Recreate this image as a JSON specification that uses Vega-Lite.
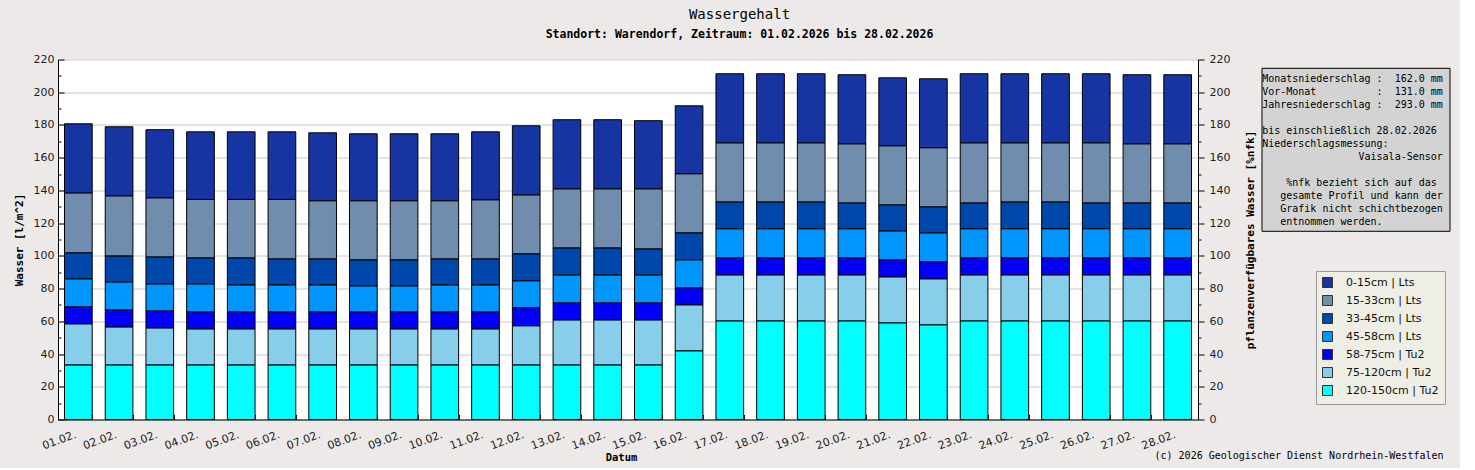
{
  "$schema": "https://vega.github.io/schema/vega-lite/v6.json",
  "background": "#ECE9E8",
  "padding": {"left": 13, "top": 7.5, "right": 10, "bottom": 4},
  "config": {"view": {"stroke": null}, "font": "DejaVu Sans"},
  "title": {
    "text": "Wassergehalt",
    "subtitle": "Standort: Warendorf, Zeitraum: 01.02.2026 bis 28.02.2026",
    "anchor": "middle",
    "font": "DejaVu Sans Mono",
    "fontSize": 14,
    "fontWeight": "normal",
    "color": "black",
    "subtitleFont": "DejaVu Sans Mono",
    "subtitleFontSize": 11.5,
    "subtitleFontWeight": "bold",
    "subtitleColor": "black",
    "subtitlePadding": 7.5,
    "offset": 13,
    "dx": 8
  },
  "datasets": {
    "wasser": [
      {"datum": "01.02.", "schicht": "120-150cm | Tu2", "tiefe": 120, "wert": 33.4},
      {"datum": "01.02.", "schicht": "75-120cm | Tu2", "tiefe": 75, "wert": 25.1},
      {"datum": "01.02.", "schicht": "58-75cm | Tu2", "tiefe": 58, "wert": 10.4},
      {"datum": "01.02.", "schicht": "45-58cm | Lts", "tiefe": 45, "wert": 17.1},
      {"datum": "01.02.", "schicht": "33-45cm | Lts", "tiefe": 33, "wert": 15.9},
      {"datum": "01.02.", "schicht": "15-33cm | Lts", "tiefe": 15, "wert": 36.6},
      {"datum": "01.02.", "schicht": "0-15cm | Lts", "tiefe": 0, "wert": 42.2},
      {"datum": "02.02.", "schicht": "120-150cm | Tu2", "tiefe": 120, "wert": 33.4},
      {"datum": "02.02.", "schicht": "75-120cm | Tu2", "tiefe": 75, "wert": 23.2},
      {"datum": "02.02.", "schicht": "58-75cm | Tu2", "tiefe": 58, "wert": 10.4},
      {"datum": "02.02.", "schicht": "45-58cm | Lts", "tiefe": 45, "wert": 17.1},
      {"datum": "02.02.", "schicht": "33-45cm | Lts", "tiefe": 33, "wert": 15.9},
      {"datum": "02.02.", "schicht": "15-33cm | Lts", "tiefe": 15, "wert": 36.7},
      {"datum": "02.02.", "schicht": "0-15cm | Lts", "tiefe": 0, "wert": 42.2},
      {"datum": "03.02.", "schicht": "120-150cm | Tu2", "tiefe": 120, "wert": 33.4},
      {"datum": "03.02.", "schicht": "75-120cm | Tu2", "tiefe": 75, "wert": 22.6},
      {"datum": "03.02.", "schicht": "58-75cm | Tu2", "tiefe": 58, "wert": 10.4},
      {"datum": "03.02.", "schicht": "45-58cm | Lts", "tiefe": 45, "wert": 16.5},
      {"datum": "03.02.", "schicht": "33-45cm | Lts", "tiefe": 33, "wert": 16.5},
      {"datum": "03.02.", "schicht": "15-33cm | Lts", "tiefe": 15, "wert": 36.1},
      {"datum": "03.02.", "schicht": "0-15cm | Lts", "tiefe": 0, "wert": 41.6},
      {"datum": "04.02.", "schicht": "120-150cm | Tu2", "tiefe": 120, "wert": 33.4},
      {"datum": "04.02.", "schicht": "75-120cm | Tu2", "tiefe": 75, "wert": 22.0},
      {"datum": "04.02.", "schicht": "58-75cm | Tu2", "tiefe": 58, "wert": 10.4},
      {"datum": "04.02.", "schicht": "45-58cm | Lts", "tiefe": 45, "wert": 17.1},
      {"datum": "04.02.", "schicht": "33-45cm | Lts", "tiefe": 33, "wert": 15.9},
      {"datum": "04.02.", "schicht": "15-33cm | Lts", "tiefe": 15, "wert": 35.7},
      {"datum": "04.02.", "schicht": "0-15cm | Lts", "tiefe": 0, "wert": 41.3},
      {"datum": "05.02.", "schicht": "120-150cm | Tu2", "tiefe": 120, "wert": 33.4},
      {"datum": "05.02.", "schicht": "75-120cm | Tu2", "tiefe": 75, "wert": 22.0},
      {"datum": "05.02.", "schicht": "58-75cm | Tu2", "tiefe": 58, "wert": 10.4},
      {"datum": "05.02.", "schicht": "45-58cm | Lts", "tiefe": 45, "wert": 16.5},
      {"datum": "05.02.", "schicht": "33-45cm | Lts", "tiefe": 33, "wert": 16.5},
      {"datum": "05.02.", "schicht": "15-33cm | Lts", "tiefe": 15, "wert": 35.7},
      {"datum": "05.02.", "schicht": "0-15cm | Lts", "tiefe": 0, "wert": 41.3},
      {"datum": "06.02.", "schicht": "120-150cm | Tu2", "tiefe": 120, "wert": 33.4},
      {"datum": "06.02.", "schicht": "75-120cm | Tu2", "tiefe": 75, "wert": 22.0},
      {"datum": "06.02.", "schicht": "58-75cm | Tu2", "tiefe": 58, "wert": 10.4},
      {"datum": "06.02.", "schicht": "45-58cm | Lts", "tiefe": 45, "wert": 16.5},
      {"datum": "06.02.", "schicht": "33-45cm | Lts", "tiefe": 33, "wert": 15.9},
      {"datum": "06.02.", "schicht": "15-33cm | Lts", "tiefe": 15, "wert": 36.3},
      {"datum": "06.02.", "schicht": "0-15cm | Lts", "tiefe": 0, "wert": 41.3},
      {"datum": "07.02.", "schicht": "120-150cm | Tu2", "tiefe": 120, "wert": 33.4},
      {"datum": "07.02.", "schicht": "75-120cm | Tu2", "tiefe": 75, "wert": 22.0},
      {"datum": "07.02.", "schicht": "58-75cm | Tu2", "tiefe": 58, "wert": 10.4},
      {"datum": "07.02.", "schicht": "45-58cm | Lts", "tiefe": 45, "wert": 16.5},
      {"datum": "07.02.", "schicht": "33-45cm | Lts", "tiefe": 33, "wert": 15.9},
      {"datum": "07.02.", "schicht": "15-33cm | Lts", "tiefe": 15, "wert": 35.5},
      {"datum": "07.02.", "schicht": "0-15cm | Lts", "tiefe": 0, "wert": 41.5},
      {"datum": "08.02.", "schicht": "120-150cm | Tu2", "tiefe": 120, "wert": 33.4},
      {"datum": "08.02.", "schicht": "75-120cm | Tu2", "tiefe": 75, "wert": 22.0},
      {"datum": "08.02.", "schicht": "58-75cm | Tu2", "tiefe": 58, "wert": 10.4},
      {"datum": "08.02.", "schicht": "45-58cm | Lts", "tiefe": 45, "wert": 15.9},
      {"datum": "08.02.", "schicht": "33-45cm | Lts", "tiefe": 33, "wert": 15.9},
      {"datum": "08.02.", "schicht": "15-33cm | Lts", "tiefe": 15, "wert": 36.1},
      {"datum": "08.02.", "schicht": "0-15cm | Lts", "tiefe": 0, "wert": 40.9},
      {"datum": "09.02.", "schicht": "120-150cm | Tu2", "tiefe": 120, "wert": 33.4},
      {"datum": "09.02.", "schicht": "75-120cm | Tu2", "tiefe": 75, "wert": 22.0},
      {"datum": "09.02.", "schicht": "58-75cm | Tu2", "tiefe": 58, "wert": 10.4},
      {"datum": "09.02.", "schicht": "45-58cm | Lts", "tiefe": 45, "wert": 15.9},
      {"datum": "09.02.", "schicht": "33-45cm | Lts", "tiefe": 33, "wert": 15.9},
      {"datum": "09.02.", "schicht": "15-33cm | Lts", "tiefe": 15, "wert": 36.1},
      {"datum": "09.02.", "schicht": "0-15cm | Lts", "tiefe": 0, "wert": 40.9},
      {"datum": "10.02.", "schicht": "120-150cm | Tu2", "tiefe": 120, "wert": 33.4},
      {"datum": "10.02.", "schicht": "75-120cm | Tu2", "tiefe": 75, "wert": 22.0},
      {"datum": "10.02.", "schicht": "58-75cm | Tu2", "tiefe": 58, "wert": 10.4},
      {"datum": "10.02.", "schicht": "45-58cm | Lts", "tiefe": 45, "wert": 16.5},
      {"datum": "10.02.", "schicht": "33-45cm | Lts", "tiefe": 33, "wert": 15.9},
      {"datum": "10.02.", "schicht": "15-33cm | Lts", "tiefe": 15, "wert": 35.5},
      {"datum": "10.02.", "schicht": "0-15cm | Lts", "tiefe": 0, "wert": 40.9},
      {"datum": "11.02.", "schicht": "120-150cm | Tu2", "tiefe": 120, "wert": 33.4},
      {"datum": "11.02.", "schicht": "75-120cm | Tu2", "tiefe": 75, "wert": 22.0},
      {"datum": "11.02.", "schicht": "58-75cm | Tu2", "tiefe": 58, "wert": 10.4},
      {"datum": "11.02.", "schicht": "45-58cm | Lts", "tiefe": 45, "wert": 16.5},
      {"datum": "11.02.", "schicht": "33-45cm | Lts", "tiefe": 33, "wert": 15.9},
      {"datum": "11.02.", "schicht": "15-33cm | Lts", "tiefe": 15, "wert": 36.1},
      {"datum": "11.02.", "schicht": "0-15cm | Lts", "tiefe": 0, "wert": 41.5},
      {"datum": "12.02.", "schicht": "120-150cm | Tu2", "tiefe": 120, "wert": 33.4},
      {"datum": "12.02.", "schicht": "75-120cm | Tu2", "tiefe": 75, "wert": 23.9},
      {"datum": "12.02.", "schicht": "58-75cm | Tu2", "tiefe": 58, "wert": 11.0},
      {"datum": "12.02.", "schicht": "45-58cm | Lts", "tiefe": 45, "wert": 16.5},
      {"datum": "12.02.", "schicht": "33-45cm | Lts", "tiefe": 33, "wert": 16.5},
      {"datum": "12.02.", "schicht": "15-33cm | Lts", "tiefe": 15, "wert": 36.0},
      {"datum": "12.02.", "schicht": "0-15cm | Lts", "tiefe": 0, "wert": 42.2},
      {"datum": "13.02.", "schicht": "120-150cm | Tu2", "tiefe": 120, "wert": 33.4},
      {"datum": "13.02.", "schicht": "75-120cm | Tu2", "tiefe": 75, "wert": 27.5},
      {"datum": "13.02.", "schicht": "58-75cm | Tu2", "tiefe": 58, "wert": 10.4},
      {"datum": "13.02.", "schicht": "45-58cm | Lts", "tiefe": 45, "wert": 17.1},
      {"datum": "13.02.", "schicht": "33-45cm | Lts", "tiefe": 33, "wert": 16.5},
      {"datum": "13.02.", "schicht": "15-33cm | Lts", "tiefe": 15, "wert": 36.1},
      {"datum": "13.02.", "schicht": "0-15cm | Lts", "tiefe": 0, "wert": 42.2},
      {"datum": "14.02.", "schicht": "120-150cm | Tu2", "tiefe": 120, "wert": 33.4},
      {"datum": "14.02.", "schicht": "75-120cm | Tu2", "tiefe": 75, "wert": 27.5},
      {"datum": "14.02.", "schicht": "58-75cm | Tu2", "tiefe": 58, "wert": 10.4},
      {"datum": "14.02.", "schicht": "45-58cm | Lts", "tiefe": 45, "wert": 17.1},
      {"datum": "14.02.", "schicht": "33-45cm | Lts", "tiefe": 33, "wert": 16.5},
      {"datum": "14.02.", "schicht": "15-33cm | Lts", "tiefe": 15, "wert": 36.1},
      {"datum": "14.02.", "schicht": "0-15cm | Lts", "tiefe": 0, "wert": 42.2},
      {"datum": "15.02.", "schicht": "120-150cm | Tu2", "tiefe": 120, "wert": 33.4},
      {"datum": "15.02.", "schicht": "75-120cm | Tu2", "tiefe": 75, "wert": 27.5},
      {"datum": "15.02.", "schicht": "58-75cm | Tu2", "tiefe": 58, "wert": 10.4},
      {"datum": "15.02.", "schicht": "45-58cm | Lts", "tiefe": 45, "wert": 17.1},
      {"datum": "15.02.", "schicht": "33-45cm | Lts", "tiefe": 33, "wert": 15.9},
      {"datum": "15.02.", "schicht": "15-33cm | Lts", "tiefe": 15, "wert": 36.7},
      {"datum": "15.02.", "schicht": "0-15cm | Lts", "tiefe": 0, "wert": 41.6},
      {"datum": "16.02.", "schicht": "120-150cm | Tu2", "tiefe": 120, "wert": 42.0},
      {"datum": "16.02.", "schicht": "75-120cm | Tu2", "tiefe": 75, "wert": 28.1},
      {"datum": "16.02.", "schicht": "58-75cm | Tu2", "tiefe": 58, "wert": 10.4},
      {"datum": "16.02.", "schicht": "45-58cm | Lts", "tiefe": 45, "wert": 17.1},
      {"datum": "16.02.", "schicht": "33-45cm | Lts", "tiefe": 33, "wert": 16.5},
      {"datum": "16.02.", "schicht": "15-33cm | Lts", "tiefe": 15, "wert": 36.1},
      {"datum": "16.02.", "schicht": "0-15cm | Lts", "tiefe": 0, "wert": 41.5},
      {"datum": "17.02.", "schicht": "120-150cm | Tu2", "tiefe": 120, "wert": 60.3},
      {"datum": "17.02.", "schicht": "75-120cm | Tu2", "tiefe": 75, "wert": 28.1},
      {"datum": "17.02.", "schicht": "58-75cm | Tu2", "tiefe": 58, "wert": 10.4},
      {"datum": "17.02.", "schicht": "45-58cm | Lts", "tiefe": 45, "wert": 17.8},
      {"datum": "17.02.", "schicht": "33-45cm | Lts", "tiefe": 33, "wert": 16.4},
      {"datum": "17.02.", "schicht": "15-33cm | Lts", "tiefe": 15, "wert": 36.1},
      {"datum": "17.02.", "schicht": "0-15cm | Lts", "tiefe": 0, "wert": 42.2},
      {"datum": "18.02.", "schicht": "120-150cm | Tu2", "tiefe": 120, "wert": 60.3},
      {"datum": "18.02.", "schicht": "75-120cm | Tu2", "tiefe": 75, "wert": 28.1},
      {"datum": "18.02.", "schicht": "58-75cm | Tu2", "tiefe": 58, "wert": 10.4},
      {"datum": "18.02.", "schicht": "45-58cm | Lts", "tiefe": 45, "wert": 17.8},
      {"datum": "18.02.", "schicht": "33-45cm | Lts", "tiefe": 33, "wert": 16.4},
      {"datum": "18.02.", "schicht": "15-33cm | Lts", "tiefe": 15, "wert": 36.1},
      {"datum": "18.02.", "schicht": "0-15cm | Lts", "tiefe": 0, "wert": 42.2},
      {"datum": "19.02.", "schicht": "120-150cm | Tu2", "tiefe": 120, "wert": 60.3},
      {"datum": "19.02.", "schicht": "75-120cm | Tu2", "tiefe": 75, "wert": 28.1},
      {"datum": "19.02.", "schicht": "58-75cm | Tu2", "tiefe": 58, "wert": 10.4},
      {"datum": "19.02.", "schicht": "45-58cm | Lts", "tiefe": 45, "wert": 17.8},
      {"datum": "19.02.", "schicht": "33-45cm | Lts", "tiefe": 33, "wert": 16.4},
      {"datum": "19.02.", "schicht": "15-33cm | Lts", "tiefe": 15, "wert": 36.1},
      {"datum": "19.02.", "schicht": "0-15cm | Lts", "tiefe": 0, "wert": 42.2},
      {"datum": "20.02.", "schicht": "120-150cm | Tu2", "tiefe": 120, "wert": 60.3},
      {"datum": "20.02.", "schicht": "75-120cm | Tu2", "tiefe": 75, "wert": 28.1},
      {"datum": "20.02.", "schicht": "58-75cm | Tu2", "tiefe": 58, "wert": 10.4},
      {"datum": "20.02.", "schicht": "45-58cm | Lts", "tiefe": 45, "wert": 17.8},
      {"datum": "20.02.", "schicht": "33-45cm | Lts", "tiefe": 33, "wert": 15.8},
      {"datum": "20.02.", "schicht": "15-33cm | Lts", "tiefe": 15, "wert": 36.1},
      {"datum": "20.02.", "schicht": "0-15cm | Lts", "tiefe": 0, "wert": 42.2},
      {"datum": "21.02.", "schicht": "120-150cm | Tu2", "tiefe": 120, "wert": 59.1},
      {"datum": "21.02.", "schicht": "75-120cm | Tu2", "tiefe": 75, "wert": 28.1},
      {"datum": "21.02.", "schicht": "58-75cm | Tu2", "tiefe": 58, "wert": 10.4},
      {"datum": "21.02.", "schicht": "45-58cm | Lts", "tiefe": 45, "wert": 17.7},
      {"datum": "21.02.", "schicht": "33-45cm | Lts", "tiefe": 33, "wert": 15.9},
      {"datum": "21.02.", "schicht": "15-33cm | Lts", "tiefe": 15, "wert": 36.1},
      {"datum": "21.02.", "schicht": "0-15cm | Lts", "tiefe": 0, "wert": 41.5},
      {"datum": "22.02.", "schicht": "120-150cm | Tu2", "tiefe": 120, "wert": 57.9},
      {"datum": "22.02.", "schicht": "75-120cm | Tu2", "tiefe": 75, "wert": 28.1},
      {"datum": "22.02.", "schicht": "58-75cm | Tu2", "tiefe": 58, "wert": 10.4},
      {"datum": "22.02.", "schicht": "45-58cm | Lts", "tiefe": 45, "wert": 17.7},
      {"datum": "22.02.", "schicht": "33-45cm | Lts", "tiefe": 33, "wert": 15.9},
      {"datum": "22.02.", "schicht": "15-33cm | Lts", "tiefe": 15, "wert": 36.1},
      {"datum": "22.02.", "schicht": "0-15cm | Lts", "tiefe": 0, "wert": 42.1},
      {"datum": "23.02.", "schicht": "120-150cm | Tu2", "tiefe": 120, "wert": 60.3},
      {"datum": "23.02.", "schicht": "75-120cm | Tu2", "tiefe": 75, "wert": 28.1},
      {"datum": "23.02.", "schicht": "58-75cm | Tu2", "tiefe": 58, "wert": 10.4},
      {"datum": "23.02.", "schicht": "45-58cm | Lts", "tiefe": 45, "wert": 17.8},
      {"datum": "23.02.", "schicht": "33-45cm | Lts", "tiefe": 33, "wert": 15.8},
      {"datum": "23.02.", "schicht": "15-33cm | Lts", "tiefe": 15, "wert": 36.7},
      {"datum": "23.02.", "schicht": "0-15cm | Lts", "tiefe": 0, "wert": 42.2},
      {"datum": "24.02.", "schicht": "120-150cm | Tu2", "tiefe": 120, "wert": 60.3},
      {"datum": "24.02.", "schicht": "75-120cm | Tu2", "tiefe": 75, "wert": 28.1},
      {"datum": "24.02.", "schicht": "58-75cm | Tu2", "tiefe": 58, "wert": 10.4},
      {"datum": "24.02.", "schicht": "45-58cm | Lts", "tiefe": 45, "wert": 17.8},
      {"datum": "24.02.", "schicht": "33-45cm | Lts", "tiefe": 33, "wert": 16.4},
      {"datum": "24.02.", "schicht": "15-33cm | Lts", "tiefe": 15, "wert": 36.1},
      {"datum": "24.02.", "schicht": "0-15cm | Lts", "tiefe": 0, "wert": 42.2},
      {"datum": "25.02.", "schicht": "120-150cm | Tu2", "tiefe": 120, "wert": 60.3},
      {"datum": "25.02.", "schicht": "75-120cm | Tu2", "tiefe": 75, "wert": 28.1},
      {"datum": "25.02.", "schicht": "58-75cm | Tu2", "tiefe": 58, "wert": 10.4},
      {"datum": "25.02.", "schicht": "45-58cm | Lts", "tiefe": 45, "wert": 17.8},
      {"datum": "25.02.", "schicht": "33-45cm | Lts", "tiefe": 33, "wert": 16.4},
      {"datum": "25.02.", "schicht": "15-33cm | Lts", "tiefe": 15, "wert": 36.1},
      {"datum": "25.02.", "schicht": "0-15cm | Lts", "tiefe": 0, "wert": 42.2},
      {"datum": "26.02.", "schicht": "120-150cm | Tu2", "tiefe": 120, "wert": 60.3},
      {"datum": "26.02.", "schicht": "75-120cm | Tu2", "tiefe": 75, "wert": 28.1},
      {"datum": "26.02.", "schicht": "58-75cm | Tu2", "tiefe": 58, "wert": 10.4},
      {"datum": "26.02.", "schicht": "45-58cm | Lts", "tiefe": 45, "wert": 17.8},
      {"datum": "26.02.", "schicht": "33-45cm | Lts", "tiefe": 33, "wert": 15.8},
      {"datum": "26.02.", "schicht": "15-33cm | Lts", "tiefe": 15, "wert": 36.7},
      {"datum": "26.02.", "schicht": "0-15cm | Lts", "tiefe": 0, "wert": 42.2},
      {"datum": "27.02.", "schicht": "120-150cm | Tu2", "tiefe": 120, "wert": 60.3},
      {"datum": "27.02.", "schicht": "75-120cm | Tu2", "tiefe": 75, "wert": 28.1},
      {"datum": "27.02.", "schicht": "58-75cm | Tu2", "tiefe": 58, "wert": 10.4},
      {"datum": "27.02.", "schicht": "45-58cm | Lts", "tiefe": 45, "wert": 17.8},
      {"datum": "27.02.", "schicht": "33-45cm | Lts", "tiefe": 33, "wert": 15.8},
      {"datum": "27.02.", "schicht": "15-33cm | Lts", "tiefe": 15, "wert": 36.1},
      {"datum": "27.02.", "schicht": "0-15cm | Lts", "tiefe": 0, "wert": 42.2},
      {"datum": "28.02.", "schicht": "120-150cm | Tu2", "tiefe": 120, "wert": 60.3},
      {"datum": "28.02.", "schicht": "75-120cm | Tu2", "tiefe": 75, "wert": 28.1},
      {"datum": "28.02.", "schicht": "58-75cm | Tu2", "tiefe": 58, "wert": 10.4},
      {"datum": "28.02.", "schicht": "45-58cm | Lts", "tiefe": 45, "wert": 17.8},
      {"datum": "28.02.", "schicht": "33-45cm | Lts", "tiefe": 33, "wert": 15.8},
      {"datum": "28.02.", "schicht": "15-33cm | Lts", "tiefe": 15, "wert": 36.1},
      {"datum": "28.02.", "schicht": "0-15cm | Lts", "tiefe": 0, "wert": 42.2}
    ],
    "info": [
      {"zeile": 1, "text": "\u200bMonatsniederschlag :\u00a0\u00a0162.0 mm\u00a0\u200b"},
      {"zeile": 2, "text": "\u200bVor-Monat\u00a0\u00a0\u00a0\u00a0\u00a0\u00a0\u00a0\u00a0\u00a0\u00a0:\u00a0\u00a0131.0 mm\u00a0\u200b"},
      {"zeile": 3, "text": "\u200bJahresniederschlag :\u00a0\u00a0293.0 mm\u00a0\u200b"},
      {"zeile": 4, "text": ""},
      {"zeile": 5, "text": "\u200bbis einschließlich 28.02.2026\u00a0\u00a0\u200b"},
      {"zeile": 6, "text": "\u200bNiederschlagsmessung:\u00a0\u00a0\u00a0\u00a0\u00a0\u00a0\u00a0\u00a0\u00a0\u00a0\u200b"},
      {"zeile": 7, "text": "\u200b\u00a0\u00a0\u00a0\u00a0\u00a0\u00a0\u00a0\u00a0\u00a0\u00a0\u00a0\u00a0\u00a0\u00a0\u00a0\u00a0Vaisala-Sensor\u00a0\u200b"},
      {"zeile": 8, "text": ""},
      {"zeile": 9, "text": "\u200b\u00a0\u00a0\u00a0\u00a0%nfk bezieht sich auf das\u00a0\u00a0\u200b"},
      {"zeile": 10, "text": "\u200b\u00a0\u00a0\u00a0gesamte Profil und kann der\u00a0\u200b"},
      {"zeile": 11, "text": "\u200b\u00a0\u00a0\u00a0Grafik nicht schichtbezogen\u00a0\u200b"},
      {"zeile": 12, "text": "\u200b\u00a0\u00a0\u00a0entnommen werden.\u00a0\u00a0\u00a0\u00a0\u00a0\u00a0\u00a0\u00a0\u00a0\u00a0\u00a0\u200b"}
    ]
  },
  "bounds": "flush",
  "spacing": 63.5,
  "hconcat": [
    {
      "width": 1140,
      "height": 360,
      "data": {"name": "wasser"},
      "view": {"fill": "white", "stroke": null},
      "layer": [
        {
          "mark": {"type": "bar", "stroke": "black", "strokeWidth": 1},
          "encoding": {
            "x": {
              "field": "datum",
              "type": "ordinal",
              "scale": {"paddingInner": 0.32, "paddingOuter": 0.16},
              "axis": {
                "title": "Datum",
                "titleFont": "DejaVu Sans Mono",
                "titleFontWeight": "bold",
                "titleFontSize": 10.5,
                "titleColor": "black",
                "titlePadding": 2,
                "titleX": 563,
                "labelAngle": -20,
                "labelAlign": "right",
                "labelBaseline": "top",
                "labelOffset": -5,
                "labelPadding": 14,
                "labelOverlap": false,
                "labelFont": "DejaVu Sans",
                "labelFontSize": 11,
                "labelColor": "#222222",
                "tickBand": "extent",
                "tickSize": -5,
                "tickColor": "black",
                "domainColor": "black",
                "grid": false
              }
            },
            "y": {
              "field": "wert",
              "type": "quantitative",
              "stack": "zero",
              "scale": {"domain": [0, 220], "nice": false},
              "axis": {
                "orient": "left",
                "values": [0, 10, 20, 30, 40, 50, 60, 70, 80, 90, 100, 110, 120, 130, 140, 150, 160, 170, 180, 190, 200, 210, 220],
                "labelExpr": "datum.value % 20 == 0 ? datum.label : ''",
                "labelOverlap": false,
                "labelFlush": false,
                "grid": true,
                "gridColor": "#C8C8C8",
                "gridOpacity": {"condition": {"test": "datum.value % 20 == 0", "value": 1}, "value": 0},
                "tickSize": {"condition": {"test": "datum.value % 20 == 0", "value": -6}, "value": -3},
                "tickColor": "black",
                "domainColor": "black",
                "labelFont": "DejaVu Sans",
                "labelFontSize": 11,
                "labelColor": "#222222",
                "labelPadding": 10,
                "title": "Wasser [l/m^2]",
                "titleFont": "DejaVu Sans Mono",
                "titleFontSize": 11,
                "titleFontWeight": "bold",
                "titleColor": "black",
                "titlePadding": 9
              }
            },
            "color": {
              "field": "schicht",
              "type": "nominal",
              "scale": {
                "domain": ["0-15cm | Lts", "15-33cm | Lts", "33-45cm | Lts", "45-58cm | Lts", "58-75cm | Tu2", "75-120cm | Tu2", "120-150cm | Tu2"],
                "range": ["#1634A2", "#708DAD", "#0047AB", "#0096FF", "#0000FA", "#87CEEB", "#00FFFF"]
              },
              "legend": {
                "title": null,
                "orient": "none",
                "legendX": 1258,
                "legendY": 211.5,
                "fillColor": "#EEEEE4",
                "strokeColor": "#9A9A9A",
                "padding": 6,
                "symbolType": "square",
                "symbolSize": 100,
                "symbolStrokeColor": "#333333",
                "symbolStrokeWidth": 1,
                "symbolOpacity": 1,
                "labelFont": "DejaVu Sans",
                "labelFontSize": 11,
                "labelColor": "#111111",
                "labelOffset": 13,
                "rowPadding": 3
              }
            },
            "order": {"field": "tiefe", "sort": "descending"}
          }
        },
        {
          "mark": {"type": "rule", "opacity": 0},
          "encoding": {
            "y": {
              "field": "wert",
              "type": "quantitative",
              "scale": {"domain": [0, 220], "nice": false},
              "axis": {
                "orient": "right",
                "values": [0, 10, 20, 30, 40, 50, 60, 70, 80, 90, 100, 110, 120, 130, 140, 150, 160, 170, 180, 190, 200, 210, 220],
                "labelExpr": "datum.value % 20 == 0 ? datum.label : ''",
                "labelOverlap": false,
                "labelFlush": false,
                "grid": false,
                "tickSize": {"condition": {"test": "datum.value % 20 == 0", "value": 6}, "value": 3},
                "tickColor": "black",
                "domainColor": "black",
                "labelFont": "DejaVu Sans",
                "labelFontSize": 11,
                "labelColor": "#222222",
                "labelPadding": 5,
                "title": "pflanzenverfügbares Wasser [%nfk]",
                "titleAngle": 270,
                "titleFont": "DejaVu Sans Mono",
                "titleFontSize": 11,
                "titleFontWeight": "bold",
                "titleColor": "black",
                "titlePadding": 26
              }
            }
          }
        }
      ],
      "resolve": {"axis": {"y": "independent"}}
    },
    {
      "bounds": "flush",
      "spacing": 7.3,
      "vconcat": [
        {
          "width": 188,
          "height": 1,
          "data": {"values": [{}]},
          "view": {"stroke": null},
          "mark": "text",
          "encoding": {"text": {"value": ""}}
        },
        {
          "width": 188,
          "height": 163,
          "data": {"name": "info"},
          "view": {"fill": "#D3D3D3", "stroke": "black", "strokeWidth": 1},
          "title": {
            "text": "(c) 2026 Geologischer Dienst Nordrhein-Westfalen",
            "orient": "bottom",
            "anchor": "end",
            "offset": 220,
            "dx": -6,
            "font": "DejaVu Sans Mono",
            "fontSize": 10,
            "fontWeight": "normal",
            "color": "black"
          },
          "mark": {"type": "text", "font": "DejaVu Sans Mono", "fontSize": 10, "align": "center", "baseline": "middle", "color": "black", "dy": 1},
          "encoding": {
            "y": {"field": "zeile", "type": "ordinal", "scale": {"type": "point", "padding": 0.77}, "axis": null},
            "text": {"field": "text"}
          }
        }
      ]
    }
  ]
}
